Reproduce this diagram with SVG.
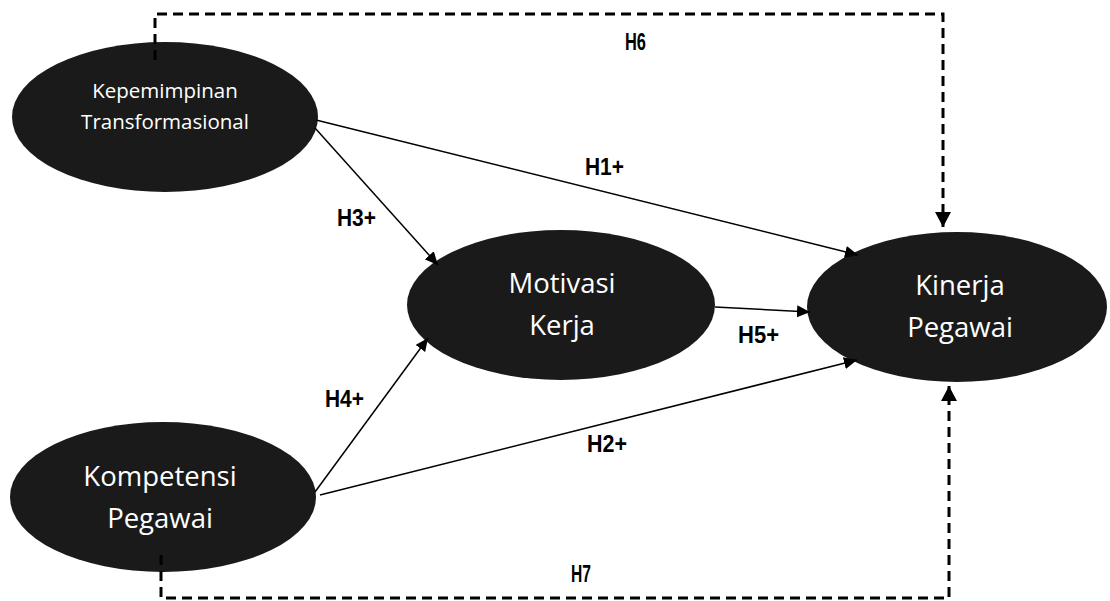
<svg xmlns="http://www.w3.org/2000/svg" width="1110" height="601" viewBox="0 0 1110 601">
<defs>
<style>
.node{fill:#1a1a1a;}
.big{font-family:"Open Sans","Noto Sans",sans-serif;font-size:27.5px;fill:#ffffff;text-anchor:middle;}
.small{font-family:"Open Sans","Noto Sans",sans-serif;font-size:20.5px;fill:#ffffff;text-anchor:middle;}
.lbl{font-family:"Liberation Sans",Arial,sans-serif;font-size:23px;font-weight:bold;fill:#000000;}
.solid{fill:none;stroke:#000000;stroke-width:1.5;marker-end:url(#arr);}
.dash{fill:none;stroke:#000000;stroke-width:3;stroke-dasharray:10 6;marker-end:url(#arrd);}
</style>
<marker id="arr" markerUnits="userSpaceOnUse" markerWidth="14" markerHeight="12" refX="13" refY="6" orient="auto">
<path d="M0,0 L13,6 L0,12 z" fill="#000000"/>
</marker>
<marker id="arrd" markerUnits="userSpaceOnUse" markerWidth="16" markerHeight="16" refX="15" refY="8" orient="auto">
<path d="M0,0 L15,8 L0,16 z" fill="#000000"/>
</marker>
</defs>
<rect width="1110" height="601" fill="#ffffff"/>
<g id="node-kepemimpinan">
<ellipse class="node" cx="165" cy="117" rx="153" ry="75"/>
<text class="small" x="165" y="98">Kepemimpinan</text>
<text class="small" x="165" y="129">Transformasional</text>
</g>
<g id="node-kompetensi">
<ellipse class="node" cx="163" cy="497" rx="153" ry="75"/>
<text class="big" x="160" y="486">Kompetensi</text>
<text class="big" x="160" y="528">Pegawai</text>
</g>
<g id="node-motivasi">
<ellipse class="node" cx="561" cy="305" rx="154" ry="75"/>
<text class="big" x="562" y="293">Motivasi</text>
<text class="big" x="562" y="335">Kerja</text>
</g>
<g id="node-kinerja">
<ellipse class="node" cx="957" cy="307" rx="150" ry="75"/>
<text class="big" x="960" y="295">Kinerja</text>
<text class="big" x="960" y="337">Pegawai</text>
</g>
<g id="connectors">
<path class="solid" d="M316,120 L858,255"/>
<path class="solid" d="M315,128 L438,265"/>
<path class="solid" d="M715,307 L810,312"/>
<path class="solid" d="M315,492 L428,338"/>
<path class="solid" d="M320,495 L857,360"/>
<path class="dash" d="M155,60 V14 H943 V227"/>
<path class="dash" d="M161,555 V598 H949 V386"/>
</g>
<g id="labels">
<text class="lbl" x="625" y="50" textLength="21" lengthAdjust="spacingAndGlyphs">H6</text>
<text class="lbl" x="585" y="175" textLength="39" lengthAdjust="spacingAndGlyphs">H1+</text>
<text class="lbl" x="337" y="226" textLength="39" lengthAdjust="spacingAndGlyphs">H3+</text>
<text class="lbl" x="325" y="407" textLength="39" lengthAdjust="spacingAndGlyphs">H4+</text>
<text class="lbl" x="738" y="343" textLength="41" lengthAdjust="spacingAndGlyphs">H5+</text>
<text class="lbl" x="587" y="452" textLength="40" lengthAdjust="spacingAndGlyphs">H2+</text>
<text class="lbl" x="571" y="582" textLength="20" lengthAdjust="spacingAndGlyphs">H7</text>
</g>
</svg>
